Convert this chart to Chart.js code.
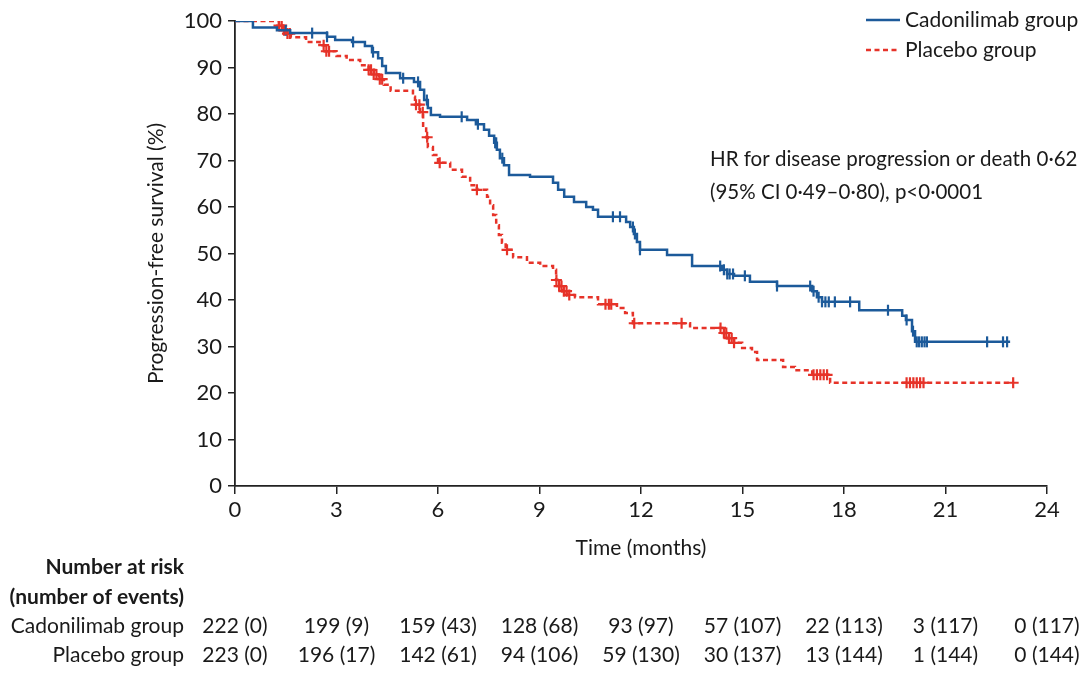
<!DOCTYPE html>
<html><head><meta charset="utf-8">
<script src="https://cdn.jsdelivr.net/npm/chart.js@4"></script>
<style>html,body{margin:0;padding:0;background:#fff;}#wrap{width:1080px;height:682px;position:relative;}</style>
</head><body><div id="wrap"><canvas id="c" width="1080" height="682"></canvas></div>
<script>
// Kaplan-Meier step data (time in months, survival in %)
const cadTimes = [0,0.53,1.24,1.63,2.72,2.96,3.46,3.84,4.05,4.23,4.35,4.46,4.88,5.29,5.47,5.59,5.70,5.79,6.06,6.86,7.12,7.36,7.51,7.66,7.74,7.83,7.95,8.10,8.72,9.40,9.55,9.73,10.02,10.38,10.58,10.73,11.56,11.68,11.79,11.88,11.97,12.77,13.51,14.40,14.54,14.75,15.22,16.02,17.06,17.20,17.35,18.45,19.72,19.83,20.01,20.10,22.91];
const cadSurv  = [100,98.6,98.0,97.4,96.6,95.9,95.5,94.6,93.3,92.0,90.3,88.8,87.7,86.9,85.2,83.0,81.3,79.8,79.4,78.7,77.8,76.6,75.3,73.8,72.3,70.5,69.0,66.9,66.5,65.2,63.7,62.2,61.1,60.0,59.4,57.9,56.8,55.7,54.2,52.5,50.8,49.7,47.3,46.5,45.6,45.2,43.9,43.0,41.9,40.6,39.6,37.8,36.6,35.7,33.3,31.0,31.0];
const plaTimes = [0,1.30,1.40,1.50,1.65,2.10,2.50,2.65,3.00,3.30,3.70,3.95,4.10,4.25,4.40,4.60,5.26,5.32,5.47,5.56,5.65,5.70,5.85,6.00,6.36,6.71,6.95,7.15,7.45,7.54,7.63,7.72,7.80,7.89,8.00,8.22,8.63,9.02,9.40,9.49,9.58,9.67,9.81,10.05,10.73,11.29,11.53,11.76,13.45,14.40,14.54,14.75,14.99,15.28,15.43,16.20,16.55,17.06,17.59,23.00];
const plaSurv  = [100,99.0,98.0,97.3,96.5,95.5,94.8,93.5,92.5,91.6,90.5,89.5,88.5,87.5,86.3,85.0,83.7,82.0,80.4,77.2,75.0,72.9,71.2,69.5,68.0,66.5,64.7,63.7,62.2,60.4,58.3,56.1,54.0,52.3,50.8,49.2,48.0,47.3,46.5,44.3,43.0,41.9,41.1,40.6,39.1,38.3,37.2,35.0,34.0,32.9,31.8,30.8,29.7,28.8,27.1,25.6,24.9,23.9,22.2,22.2];
// censoring times
const cadCensor = [1.50,2.28,2.72,3.49,4.08,4.97,5.41,5.67,6.70,7.18,7.69,7.72,7.90,11.17,11.38,11.76,11.82,11.97,14.34,14.45,14.55,14.62,14.72,15.07,16.02,17.00,17.10,17.25,17.35,17.45,17.55,17.73,18.18,19.30,19.85,20.04,20.15,20.22,20.30,20.38,20.45,22.23,22.70,22.82];
const plaCensor = [1.30,1.38,1.45,1.55,1.62,2.62,2.70,2.78,3.95,4.02,4.10,4.18,4.28,4.35,5.35,5.45,5.55,5.68,6.05,7.15,8.04,9.50,9.58,9.65,9.72,9.80,9.88,10.95,11.05,11.12,11.80,13.20,14.35,14.45,14.52,14.60,14.68,14.75,17.10,17.20,17.30,17.40,17.50,19.85,19.95,20.05,20.15,20.25,20.35,23.00];
// number at risk
const riskTimes = [0,3,6,9,12,15,18,21,24];
const riskCad = ['222 (0)','199 (9)','159 (43)','128 (68)','93 (97)','57 (107)','22 (113)','3 (117)','0 (117)'];
const riskPla = ['223 (0)','196 (17)','142 (61)','94 (106)','59 (130)','30 (137)','13 (144)','1 (144)','0 (144)'];
const seriesNames = ['Cadonilimab group','Placebo group'];
const hrText = ['HR for disease progression or death 0·62','(95% CI 0·49–0·80), p<0·0001'];

const BLUE = '#1c5a9a', RED = '#e63329', TXT = '#1a1a1a';
const FAM = 'Lato, "Open Sans", sans-serif';
function pts(t, s){ return t.map((x,i)=>({x:x,y:s[i]})); }
function survAt(t, s, time){ let v = s[0]; for(let i=0;i<t.length;i++){ if(t[i] <= time) v = s[i]; } return v; }
function censorPts(ct, t, s){ return ct.map(x=>({x:x, y:survAt(t,s,x)})); }

Chart.defaults.font.family = FAM;
Chart.defaults.font.size = 21;
Chart.defaults.color = TXT;

const overlay = {
  id:'overlay',
  afterDraw(chart){
    const ctx = chart.ctx, xs = chart.scales.x;
    ctx.save();
    // legend
    ctx.lineWidth = 2.5;
    ctx.strokeStyle = BLUE; ctx.setLineDash([]);
    ctx.beginPath(); ctx.moveTo(866,20); ctx.lineTo(900,20); ctx.stroke();
    ctx.strokeStyle = RED; ctx.setLineDash([5,3.5]);
    ctx.beginPath(); ctx.moveTo(866,50); ctx.lineTo(900,50); ctx.stroke();
    ctx.setLineDash([]);
    ctx.fillStyle = TXT; ctx.font = '21px ' + FAM;
    ctx.textAlign = 'left'; ctx.textBaseline = 'middle';
    ctx.fillText(seriesNames[0], 905, 20);
    ctx.fillText(seriesNames[1], 905, 50);
    // HR annotation
    ctx.font = '20.5px ' + FAM;
    ctx.fillText(hrText[0], 710, 159);
    ctx.fillText(hrText[1], 710, 192);
    // risk table
    ctx.textAlign = 'right';
    ctx.font = 'bold 21px ' + FAM;
    ctx.fillText('Number at risk', 184, 567);
    ctx.fillText('(number of events)', 184, 597);
    ctx.font = '21px ' + FAM;
    ctx.fillText(seriesNames[0], 184, 626);
    ctx.fillText(seriesNames[1], 184, 655);
    ctx.textAlign = 'center';
    riskTimes.forEach((t,i)=>{
      const px = xs.getPixelForValue(t);
      ctx.fillText(riskCad[i], px, 626);
      ctx.fillText(riskPla[i], px, 655);
    });
    ctx.restore();
  }
};

new Chart(document.getElementById('c'), {
  type:'scatter',
  data:{ datasets:[
    {label:seriesNames[0], data:pts(cadTimes,cadSurv), showLine:true, stepped:true, borderColor:BLUE, borderWidth:2.5, pointRadius:0, fill:false},
    {label:seriesNames[1], data:pts(plaTimes,plaSurv), showLine:true, stepped:true, borderColor:RED, borderWidth:2.5, borderDash:[5,3.5], pointRadius:0, fill:false},
    {label:'c1', data:censorPts(cadCensor,cadTimes,cadSurv), showLine:false, pointStyle:'line', rotation:90, radius:5.5, borderColor:BLUE, borderWidth:2.2},
    {label:'c2', data:censorPts(plaCensor,plaTimes,plaSurv), showLine:false, pointStyle:'cross', radius:5.5, borderColor:RED, borderWidth:2.2}
  ]},
  options:{
    responsive:false, animation:false, devicePixelRatio:1,
    layout:{padding:{left:140, right:33, top:21, bottom:121}},
    plugins:{legend:{display:false}, tooltip:{enabled:false}},
    scales:{
      x:{type:'linear', min:0, max:24,
        ticks:{stepSize:3, padding:3, color:TXT, maxRotation:0, font:{size:22}},
        grid:{drawOnChartArea:false, drawTicks:true, tickLength:8, tickColor:'#222', lineWidth:1.5},
        border:{display:true, color:'#222', width:1.8},
        title:{display:true, text:'Time (months)', color:TXT, font:{size:21}, padding:{top:2,bottom:0}},
        afterFit(s){ s.height = 75; }
      },
      y:{type:'linear', min:0, max:100,
        ticks:{stepSize:10, padding:6, color:TXT, font:{size:22}},
        grid:{drawOnChartArea:false, drawTicks:true, tickLength:7, tickColor:'#222', lineWidth:1.5},
        border:{display:true, color:'#222', width:1.8},
        title:{display:true, text:'Progression-free survival (%)', color:TXT, font:{size:21}, padding:{top:4,bottom:4}},
        afterFit(s){ s.width = 95; }
      }
    }
  },
  plugins:[overlay]
});
</script></body></html>
